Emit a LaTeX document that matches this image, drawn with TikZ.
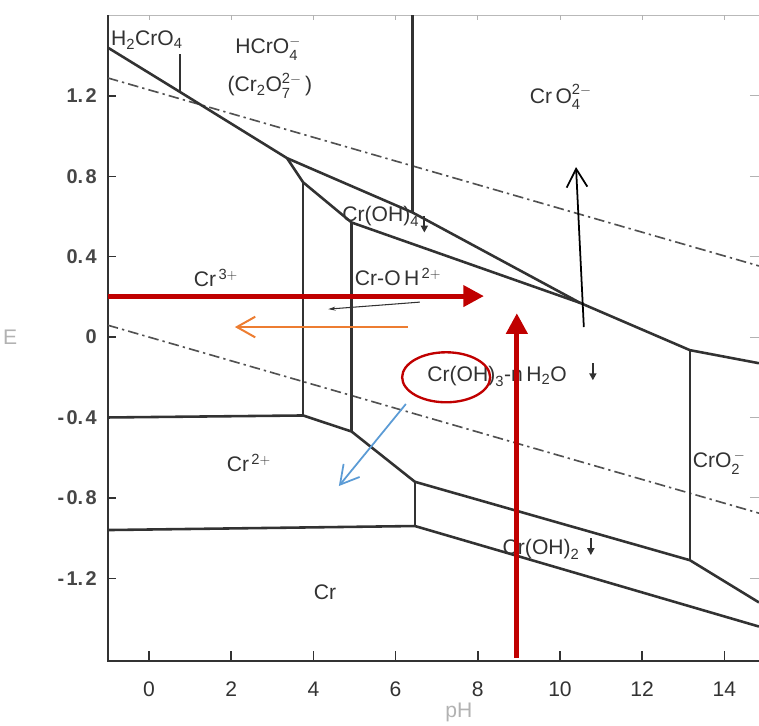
\documentclass[tikz,border=0pt]{standalone}
\usepackage{fontspec}
\setmainfont{Liberation Sans}
\usepackage{tikz}
\usetikzlibrary{arrows.meta,shapes}
\usepackage{amsmath,amssymb}
\definecolor{ink}{RGB}{50,50,50}
\definecolor{darkred}{RGB}{192,0,0}
\definecolor{orangeline}{RGB}{237,125,49}
\definecolor{blueline}{RGB}{91,155,213}
\newcommand{\lp}{\text{(}}
\newcommand{\rp}{\text{)}}
\tikzset{
bnd/.style={ink,line width=2.2pt,line join=round},
water/.style={ink!85,line width=1.4pt,dash pattern=on 9pt off 3.5pt on 2pt off 3.5pt},
lab/.style={ink,font=\fontsize{18}{21}\selectfont,inner sep=1pt},
num/.style={ink!90,font=\fontsize{17}{20}\selectfont\bfseries,inner sep=1pt},
fat/.style={darkred,line width=4.3pt,-{Triangle[length=0.62cm,width=0.62cm]}},
thin/.style={line width=1.7pt,-{Straight Barb[length=0.55cm,width=0.62cm]}},
sink/.style={ink,line width=1.6pt,-{Triangle[length=6pt,width=6pt]}}
}

\begin{document}
\begin{tikzpicture}[x=1.233cm,y=6.03cm]
\useasboundingbox (-3.625,-1.930) rectangle (14.842,1.677);
% frame and ticks
\draw[gray!55,line width=1pt] (-1,1.6) -- (14.84,1.6);
\draw[ink,line width=1.7pt] (-1,1.6) -- (-1,-1.612) -- (14.84,-1.612);
\foreach \p in {0,2,...,14}{
\draw[ink,line width=1.3pt] (\p,-1.612) -- (\p,-1.56);
\draw[gray!60,line width=0.8pt] (\p,1.6) -- (\p,1.575);
\node[lab] (ph\p) at (\p,-1.75) {\p};
}
\foreach \e/\t [count=\i] in {1.2/1.\hspace{2pt}2,0.8/0.\hspace{2pt}8,0.4/0.\hspace{2pt}4,0/0,-0.4/-\hspace{2pt}0.\hspace{2pt}4,-0.8/-\hspace{2pt}0.\hspace{2pt}8,-1.2/-\hspace{2pt}1.\hspace{2pt}2}{
\draw[ink,line width=1.3pt] (-1,\e) -- (-0.8,\e);
\draw[gray!60,line width=0.8pt] (14.62,\e) -- (14.84,\e);
\node[num,anchor=east] (e\i) at (-1.24,\e) {\t};
}
\node[lab,gray!60] (eaxis) at (-3.38,0) {E};
\node[lab,gray!60] (phaxis) at (7.54,-1.866) {pH};
% water lines
\draw[water] (-1,1.289) -- (14.84,0.354);
\draw[water] (-1,0.059) -- (14.84,-0.876);
% boundaries
\draw[bnd] (-1,1.44) -- (0.75,1.22) -- (3.36,0.89) -- (3.75,0.77) -- (4.93,0.57) -- (10.49,0.17) -- (13.16,-0.065) -- (14.84,-0.13);
\draw[bnd] (0.75,1.22) -- (0.75,1.41);
\draw[bnd] (3.36,0.89) -- (6.41,0.62) -- (10.49,0.17);
\draw[bnd] (6.41,0.62) -- (6.41,1.6);
\draw[bnd] (3.75,0.77) -- (3.75,-0.39);
\draw[bnd] (4.93,0.57) -- (4.93,-0.47);
\draw[bnd] (-1,-0.40) -- (3.75,-0.39) -- (4.93,-0.47) -- (6.47,-0.72) -- (13.16,-1.11) -- (14.84,-1.32);
\draw[bnd] (6.47,-0.72) -- (6.47,-0.94);
\draw[bnd] (-1,-0.96) -- (6.47,-0.94) -- (14.84,-1.44);
\draw[bnd] (13.16,-0.065) -- (13.16,-1.11);
% species
\node[lab] (h2cro4) at (-0.05,1.478) {$\mathrm{H_2CrO_4}$};
\node[lab] (hcro4) at (2.90,1.433) {$\mathrm{HCrO_4^-}$};
\node[lab] (cr2o7) at (2.94,1.249) {$\mathrm{\lp Cr_2O_7^{2-}\,\rp}$};
\node[lab] (cro4) at (10.02,1.194) {$\mathrm{Cr\,O_4^{2-}}$};
\node[lab] (croh4) at (5.64,0.602) {$\mathrm{Cr\lp OH\rp_4}$};
\node[lab] (cr3) at (1.63,0.294) {$\mathrm{Cr^{\,3+}}$};
\node[lab] (croh) at (6.06,0.299) {$\mathrm{Cr\text{-}O\,H^{\,2+}}$};
\node[lab] (croh3) at (8.47,-0.194) {$\mathrm{Cr\lp OH\rp_3}$-$\mathrm{n\,H_2O}$};
\node[lab] (cr2) at (2.43,-0.627) {$\mathrm{Cr^{\,2+}}$};
\node[lab] (cro2) at (13.87,-0.627) {$\mathrm{CrO_2^{\,-}}$};
\node[lab] (croh2) at (9.54,-1.055) {$\mathrm{Cr\lp OH\rp_2}$};
\node[lab] (cr) at (4.28,-1.269) {Cr};
% precipitate marks
\draw[sink] (6.70,0.60) -- (6.70,0.52);
\draw[sink] (10.80,-0.13) -- (10.80,-0.215);
\draw[sink] (10.75,-1.00) -- (10.75,-1.085);
% marks
\draw[darkred,line width=2pt] (7.23,-0.2) ellipse [x radius=1.32cm,y radius=0.75cm];
\draw[fat] (-1,0.204) -- (8.15,0.204);
\draw[fat] (8.95,-1.597) -- (8.95,0.119);
\draw[thin,orangeline] (6.30,0.050) -- (2.09,0.050);
\draw[thin,blueline,line width=1.5pt] (6.25,-0.333) -- (4.62,-0.741);
\draw[thin,black,line width=1.5pt] (10.58,0.05) -- (10.39,0.846);
\draw[ink,line width=0.9pt,-{Stealth[length=0.22cm,width=0.12cm]}] (6.59,0.174) -- (4.36,0.139);
\end{tikzpicture}
\end{document}
